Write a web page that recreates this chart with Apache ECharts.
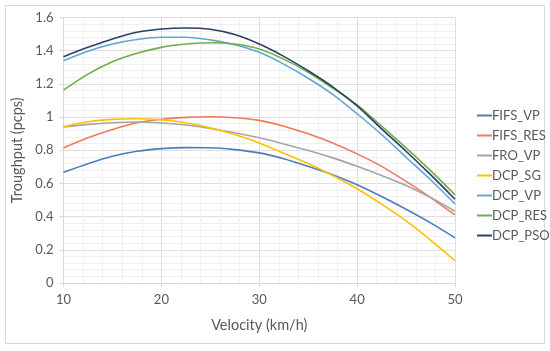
<!DOCTYPE html>
<html><head><meta charset="utf-8">
<script src="https://cdn.jsdelivr.net/npm/echarts@6/dist/echarts.min.js"></script>
<style>html,body{margin:0;padding:0;background:#fff}#c{width:550px;height:351px}</style>
</head><body><div id="c"></div>
<script>
const velocity = [10, 12.5, 15, 17.5, 20, 22.5, 25, 27.5, 30, 32.5, 35, 37.5, 40, 42.5, 45, 47.5, 50];
const seriesNames = ['FIFS_VP','FIFS_RES','FRO_VP','DCP_SG','DCP_VP','DCP_RES','DCP_PSO'];
const FIFS_VP  = [0.667, 0.719, 0.764, 0.794, 0.810, 0.816, 0.815, 0.804, 0.784, 0.749, 0.703, 0.653, 0.592, 0.521, 0.444, 0.362, 0.272];
const FIFS_RES = [0.814, 0.875, 0.925, 0.966, 0.986, 0.998, 1.002, 0.996, 0.980, 0.945, 0.899, 0.844, 0.778, 0.703, 0.612, 0.515, 0.410];
const FRO_VP   = [0.941, 0.956, 0.966, 0.970, 0.964, 0.952, 0.931, 0.905, 0.875, 0.838, 0.798, 0.754, 0.703, 0.648, 0.588, 0.515, 0.432];
const DCP_SG   = [0.941, 0.972, 0.986, 0.990, 0.984, 0.966, 0.935, 0.895, 0.844, 0.782, 0.720, 0.648, 0.568, 0.475, 0.374, 0.259, 0.134];
const DCP_VP   = [1.339, 1.396, 1.440, 1.467, 1.481, 1.481, 1.465, 1.436, 1.390, 1.319, 1.234, 1.137, 1.020, 0.895, 0.758, 0.622, 0.477];
const DCP_RES  = [1.162, 1.259, 1.333, 1.384, 1.420, 1.440, 1.448, 1.440, 1.410, 1.349, 1.269, 1.174, 1.073, 0.945, 0.814, 0.677, 0.531];
const DCP_PSO  = [1.364, 1.420, 1.471, 1.511, 1.531, 1.537, 1.529, 1.497, 1.440, 1.366, 1.279, 1.182, 1.067, 0.929, 0.794, 0.653, 0.505];
const allData = [FIFS_VP, FIFS_RES, FRO_VP, DCP_SG, DCP_VP, DCP_RES, DCP_PSO];
const colors = ['#4a7ebb','#f2785a','#a5a5a5','#ffc000','#62a6d6','#70ad47','#2a3f63'];
const yTicks = ['0','0.2','0.4','0.6','0.8','1','1.2','1.4','1.6'];

const font = 'Lato, "Liberation Sans", sans-serif';
const chart = echarts.init(document.getElementById('c'));
chart.setOption({
  animation: false,
  color: colors,
  grid: {left: 63.5, right: 95, top: 17.5, bottom: 68, containLabel: false},
  graphic: [{type:'rect', shape:{x:5.5,y:5.5,width:539,height:338}, style:{fill:'none', stroke:'#d9d9d9', lineWidth:1}, silent:true, z:-1}],
  legend: {
    orient: 'vertical', left: 472, top: 104,
    itemWidth: 15, itemHeight: 2, itemGap: 7, icon: 'rect',
    textStyle: {fontFamily: font, fontSize: 13, color: '#595959', padding:[0,0,0,-5]},
    data: seriesNames
  },
  xAxis: {
    type: 'value', min: 10, max: 50, interval: 10,
    name: 'Velocity (km/h)', nameLocation: 'middle', nameGap: 35,
    nameTextStyle: {fontFamily: font, fontSize: 14.5, color: '#595959'},
    axisLine: {show: true, lineStyle: {color: '#d9d9d9'}},
    axisTick: {show: true, length: 4, lineStyle: {color: '#d9d9d9'}},
    axisLabel: {fontFamily: font, fontSize: 13, color: '#595959', margin: 10},
    splitLine: {show: true, lineStyle: {color: '#dedede'}},
    minorTick: {show: false, splitNumber: 5},
    minorSplitLine: {show: true, lineStyle: {color: '#f0f0f0'}}
  },
  yAxis: {
    type: 'value', min: 0, max: 1.6, interval: 0.2,
    name: 'Troughput (pcps)', nameLocation: 'middle', nameGap: 34, nameRotate: 90,
    nameTextStyle: {fontFamily: font, fontSize: 14.5, color: '#595959'},
    axisLine: {show: true, lineStyle: {color: '#d9d9d9'}},
    axisTick: {show: true, length: 4, lineStyle: {color: '#d9d9d9'}},
    axisLabel: {fontFamily: font, fontSize: 13, color: '#595959', margin: 10,
      formatter: function(v){ const i = Math.round(v/0.2); return yTicks[i] !== undefined ? yTicks[i] : ''; }},
    splitLine: {show: true, lineStyle: {color: '#dedede'}},
    minorTick: {show: false, splitNumber: 5},
    minorSplitLine: {show: true, lineStyle: {color: '#f0f0f0'}}
  },
  series: seriesNames.map((n, i) => ({
    name: n, type: 'line', smooth: 0.3, showSymbol: false, symbol: 'none',
    lineStyle: {width: 1.6, color: colors[i]},
    data: velocity.map((v, j) => [v, allData[i][j]])
  }))
});
</script></body></html>
